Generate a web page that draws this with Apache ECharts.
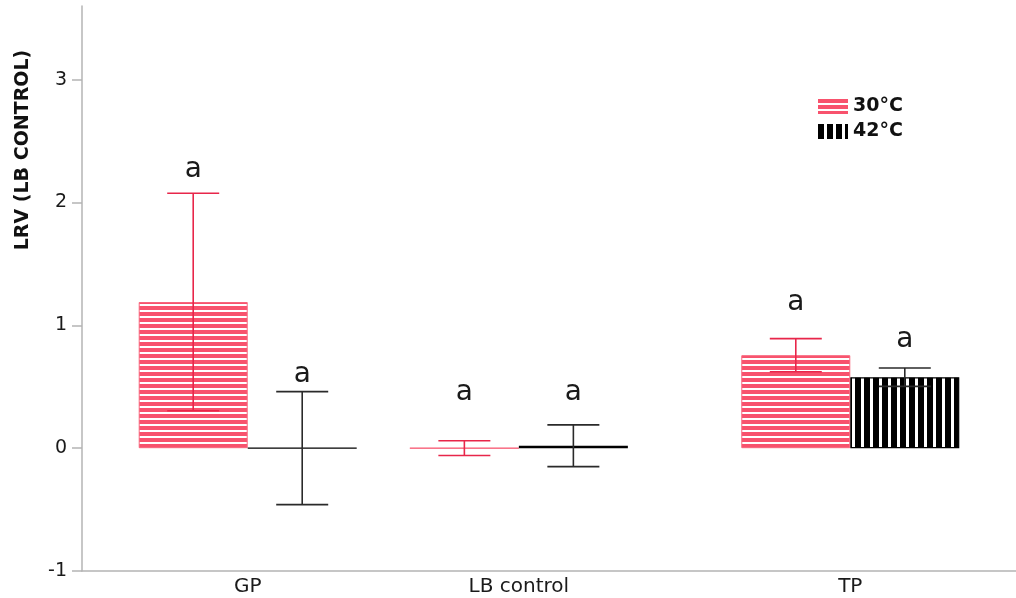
<!DOCTYPE html>
<html>
<head>
<meta charset="utf-8">
<script src="https://cdn.jsdelivr.net/npm/echarts@6/dist/echarts.min.js"></script>
<style>
  html, body { margin: 0; padding: 0; background: #fff; }
  #chart { width: 1016px; height: 598px; }
</style>
</head>
<body>
<div id="chart"></div>
<script>
// ---- data ----
const categories = ['GP', 'LB control', 'TP'];
const seriesNames = ['30°C', '42°C'];
const mean30 = [1.19, 0.0, 0.757];
const err30 = [0.885, 0.06, 0.135];
const mean42 = [0.0, 0.02, 0.578];
const err42 = [0.46, 0.17, 0.075];
const letters30 = ['a', 'a', 'a'];
const letters42 = ['a', 'a', 'a'];
const letterY30 = [2.265, 0.448, 1.183];
const letterY42 = [0.595, 0.448, 0.88];
const yTicks = [-1, 0, 1, 2, 3];

// ---- layout ----
const SLOT_COUNT = 31;
const groupSlots = [5, 14, 25];
const BAR_W = 109;
const CAP_HALF = 26;
const FONT = '"DejaVu Sans", sans-serif';

function makePattern(w, h, draw) {
  const c = document.createElement('canvas');
  c.width = w; c.height = h;
  const ctx = c.getContext('2d');
  ctx.fillStyle = '#ffffff';
  ctx.fillRect(0, 0, w, h);
  draw(ctx);
  return { image: c, repeat: 'repeat' };
}
const redPattern = makePattern(4, 6, ctx => { ctx.fillStyle = '#f8526d'; ctx.fillRect(0, 0, 4, 4); });
const blackPattern = makePattern(9, 4, ctx => { ctx.fillStyle = '#000000'; ctx.fillRect(0, 0, 6, 4); });

const slotLabels = Array(SLOT_COUNT).fill('');
groupSlots.forEach((s, i) => { slotLabels[s] = categories[i]; });

function slotData(values) {
  const arr = Array(SLOT_COUNT).fill('-');
  groupSlots.forEach((s, i) => { arr[s] = values[i]; });
  return arr;
}
function errData(means, errs, ly, letters) {
  return groupSlots.map((s, i) => [s, means[i], errs[i], ly[i], letters[i]]);
}
function errSeries(name, data, color, sign) {
  return {
    type: 'custom',
    name: name,
    data: data,
    z: 5,
    silent: true,
    encode: { x: 0, y: 1 },
    renderItem: function (params, api) {
      const slot = api.value(0), m = api.value(1), e = api.value(2), ly = api.value(3);
      const top = api.coord([slot, m + e]);
      const bot = api.coord([slot, m - e]);
      const lp = api.coord([slot, ly]);
      const x = top[0] + sign * BAR_W / 2;
      const st = { stroke: color, lineWidth: 1.6 };
      return {
        type: 'group',
        children: [
          { type: 'line', shape: { x1: x, y1: top[1], x2: x, y2: bot[1] }, style: st },
          { type: 'line', shape: { x1: x - CAP_HALF, y1: top[1], x2: x + CAP_HALF, y2: top[1] }, style: st },
          { type: 'line', shape: { x1: x - CAP_HALF, y1: bot[1], x2: x + CAP_HALF, y2: bot[1] }, style: st },
          { type: 'text', x: x, y: lp[1], style: { text: data[params.dataIndex][4], fill: '#1a1a1a', font: '28px ' + FONT, align: 'center', verticalAlign: 'middle' } }
        ]
      };
    }
  };
}

const chart = echarts.init(document.getElementById('chart'), null, { renderer: 'canvas' });
chart.setOption({
  animation: false,
  backgroundColor: '#ffffff',
  grid: { left: 82, right: 0, top: 6, bottom: 27, containLabel: false },
  legend: {
    orient: 'vertical',
    left: 813,
    top: 92,
    itemWidth: 30,
    itemHeight: 15,
    itemGap: 6,
    icon: 'rect',
    data: seriesNames,
    itemStyle: { borderWidth: 0 },
    textStyle: { fontFamily: FONT, fontWeight: 'bold', fontSize: 19, color: '#111' }
  },
  xAxis: {
    type: 'category',
    data: slotLabels,
    axisLine: { onZero: false, lineStyle: { color: '#b4b4b4', width: 1.5 } },
    axisTick: { show: false },
    axisLabel: { interval: 0, margin: 6, fontFamily: FONT, fontSize: 20, color: '#1a1a1a' },
    splitLine: { show: false }
  },
  yAxis: {
    type: 'value',
    min: -1,
    max: 3.6,
    axisLine: { show: true, onZero: false, lineStyle: { color: '#b4b4b4', width: 1.5 } },
    axisTick: { show: true, length: 10, customValues: yTicks, lineStyle: { color: '#b4b4b4', width: 1.5 } },
    axisLabel: { customValues: yTicks, margin: 15, fontFamily: FONT, fontSize: 19, color: '#1a1a1a' },
    splitLine: { show: false }
  },
  graphic: [{
    type: 'text',
    x: 23, y: 150,
    rotation: Math.PI / 2,
    style: { text: 'LRV (LB CONTROL)', font: 'bold 19px ' + FONT, fill: '#111', align: 'center', verticalAlign: 'middle' }
  }],
  series: [
    {
      type: 'bar', name: seriesNames[0], data: slotData(mean30),
      barWidth: BAR_W, barGap: '0%',
      itemStyle: { color: redPattern, borderColor: '#f8667d', borderWidth: 1 }
    },
    {
      type: 'bar', name: seriesNames[1], data: slotData(mean42),
      barWidth: BAR_W, barGap: '0%',
      itemStyle: { color: blackPattern, borderColor: '#000', borderWidth: 1.2 }
    },
    errSeries('err30', errData(mean30, err30, letterY30, letters30), '#e8264a', -1),
    errSeries('err42', errData(mean42, err42, letterY42, letters42), '#2a2a2a', 1)
  ]
});
</script>
</body>
</html>
